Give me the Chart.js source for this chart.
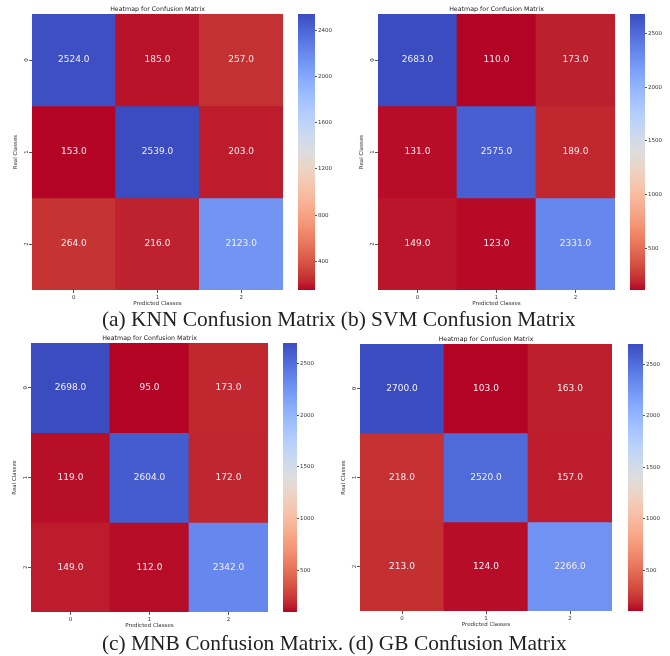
<!DOCTYPE html>
<html>
<head>
<meta charset="utf-8">
<script src="https://cdn.jsdelivr.net/npm/chart.js@4.4.1/dist/chart.umd.min.js"></script>
<style>
  body { margin: 0; background: #fff; width: 670px; height: 656px; position: relative; overflow: hidden; }
  canvas { position: absolute; }
  .cap { position: absolute; font-family: "Liberation Serif", "Times New Roman", serif; font-size: 21.4px; line-height: 21px; color: #222; white-space: nowrap; }
</style>
</head>
<body>
<canvas id="hm-knn"></canvas><canvas id="cb-knn"></canvas>
<canvas id="hm-svm"></canvas><canvas id="cb-svm"></canvas>
<canvas id="hm-mnb"></canvas><canvas id="cb-mnb"></canvas>
<canvas id="hm-gb"></canvas><canvas id="cb-gb"></canvas>
<div class="cap" style="left:102px;top:309px">(a) KNN Confusion Matrix (b) SVM Confusion Matrix</div>
<div class="cap" style="left:102px;top:633px">(c) MNB Confusion Matrix. (d) GB Confusion Matrix</div>
<script>
// data (rows = real class, cols = predicted)
const classLabels = ["0", "1", "2"];
const knnMatrix = [[2524, 185, 257], [153, 2539, 203], [264, 216, 2123]];
const svmMatrix = [[2683, 110, 173], [131, 2575, 189], [149, 123, 2331]];
const mnbMatrix = [[2698, 95, 173], [119, 2604, 172], [149, 112, 2342]];
const gbMatrix = [[2700, 103, 163], [218, 2520, 157], [213, 124, 2266]];
const knnTicks = [400, 800, 1200, 1600, 2000, 2400];
const svmTicks = [500, 1000, 1500, 2000, 2500];
const mnbTicks = [500, 1000, 1500, 2000, 2500];
const gbTicks = [500, 1000, 1500, 2000, 2500];
const chartTitle = "Heatmap for Confusion Matrix";

// matplotlib coolwarm, 33 samples
const coolwarm = [
  [59,76,192],[68,90,204],[77,104,215],[87,117,225],[98,130,234],[108,142,241],[119,154,247],
  [130,165,251],[141,176,254],[152,185,255],[163,194,255],[174,201,253],[184,208,249],[194,213,244],
  [204,217,238],[213,219,230],[221,221,221],[229,216,209],[236,211,197],[241,204,185],[245,196,173],
  [247,187,160],[247,177,148],[247,166,135],[244,154,123],[241,141,111],[236,127,99],[229,112,88],
  [222,96,77],[213,80,66],[203,62,56],[192,40,47],[180,4,38]
];
function coolwarmR(t) {
  const p = (1 - Math.min(1, Math.max(0, t))) * (coolwarm.length - 1);
  const i = Math.min(coolwarm.length - 2, Math.floor(p));
  const f = p - i;
  const a = coolwarm[i], b = coolwarm[i + 1];
  const c = a.map((v, k) => Math.round(v + (b[k] - v) * f));
  return `rgb(${c[0]},${c[1]},${c[2]})`;
}

const axisFont = { family: "DejaVu Sans", size: 5.5 };
const axisColor = "#333";

const titlePlugin = {
  id: "hmTitle",
  afterDraw(chart, args, opts) {
    const { ctx, chartArea } = chart;
    ctx.save();
    ctx.font = '6.3px "DejaVu Sans"';
    ctx.fillStyle = "#222";
    ctx.textAlign = "center";
    ctx.textBaseline = "middle";
    ctx.fillText(opts.text, (chartArea.left + chartArea.right) / 2, chartArea.top - 5);
    ctx.restore();
  }
};

const annotPlugin = {
  id: "annot",
  afterDatasetsDraw(chart, args, opts) {
    const { ctx } = chart;
    ctx.save();
    ctx.font = '9px "DejaVu Sans"';
    ctx.fillStyle = "#f4eef4";
    ctx.textAlign = "center";
    ctx.textBaseline = "middle";
    opts.matrix.forEach((row, r) => {
      chart.getDatasetMeta(r).data.forEach((bar, c) => {
        ctx.fillText(row[c].toFixed(1), bar.x, (bar.y + bar.base) / 2);
      });
    });
    ctx.restore();
  }
};

function heatmap(id, area, matrix) {
  const flat = matrix.flat();
  const vmin = Math.min(...flat), vmax = Math.max(...flat);
  const el = document.getElementById(id);
  el.width = area.r - area.l + 38;
  el.height = area.b - area.t + 38;
  el.style.left = (area.l - 32) + "px";
  el.style.top = (area.t - 14) + "px";
  new Chart(el, {
    type: "bar",
    data: {
      labels: classLabels,
      datasets: matrix.map((row, r) => ({
        data: row.map(() => [r, r + 1]),
        backgroundColor: row.map(v => coolwarmR((v - vmin) / (vmax - vmin))),
        borderWidth: 0,
        grouped: false,
        barPercentage: 1,
        categoryPercentage: 1
      }))
    },
    options: {
      responsive: false,
      animation: false,
      layout: { padding: { top: 14, right: 6, left: 0, bottom: 0 } },
      plugins: {
        legend: { display: false },
        tooltip: { enabled: false },
        hmTitle: { text: chartTitle },
        annot: { matrix }
      },
      scales: {
        x: {
          afterFit: s => { s.height = 24; },
          grid: { display: true, drawOnChartArea: false, offset: false, tickLength: 3, color: "#555" },
          border: { display: false },
          ticks: { font: axisFont, color: axisColor, padding: 1 },
          title: { display: true, text: "Predicted Classes", font: axisFont, color: axisColor, padding: { top: 0, bottom: 7 } }
        },
        y: {
          min: 0,
          max: classLabels.length,
          reverse: true,
          afterFit: s => { s.width = 32; },
          afterBuildTicks: s => { s.ticks = classLabels.map((_, i) => ({ value: i + 0.5 })); },
          grid: { display: true, drawOnChartArea: false, tickLength: 3, color: "#555" },
          border: { display: false },
          ticks: {
            font: axisFont, color: axisColor, padding: 1,
            minRotation: 90, maxRotation: 90, crossAlign: "center",
            callback: v => classLabels[Math.floor(v)]
          },
          title: { display: true, text: "Real Classes", font: axisFont, color: axisColor, padding: { top: 12, bottom: 0 } }
        }
      }
    },
    plugins: [titlePlugin, annotPlugin]
  });
}

function colorbar(id, box, matrix, ticks) {
  const flat = matrix.flat();
  const vmin = Math.min(...flat), vmax = Math.max(...flat);
  const el = document.getElementById(id);
  el.width = box.r - box.l + 24;
  el.height = box.b - box.t + 10;
  el.style.left = box.l + "px";
  el.style.top = (box.t - 5) + "px";
  new Chart(el, {
    type: "bar",
    data: {
      labels: [""],
      datasets: [{
        data: [[vmin, vmax]],
        borderWidth: 0,
        barPercentage: 1,
        categoryPercentage: 1,
        backgroundColor: ctx => {
          const a = ctx.chart.chartArea;
          if (!a) return coolwarmR(0.5);
          const g = ctx.chart.ctx.createLinearGradient(0, a.bottom, 0, a.top);
          for (let i = 0; i <= 32; i++) g.addColorStop(i / 32, coolwarmR(i / 32));
          return g;
        }
      }]
    },
    options: {
      responsive: false,
      animation: false,
      layout: { padding: { top: 5, bottom: 5, left: 0, right: 0 } },
      plugins: { legend: { display: false }, tooltip: { enabled: false } },
      scales: {
        x: { display: false },
        y: {
          position: "right",
          min: vmin,
          max: vmax,
          afterFit: s => { s.width = 24; },
          afterBuildTicks: s => { s.ticks = ticks.map(v => ({ value: v })); },
          grid: { display: true, drawOnChartArea: false, tickLength: 2, color: "#555" },
          border: { display: false },
          ticks: { font: axisFont, color: axisColor, padding: 1, callback: v => String(v) }
        }
      }
    }
  });
}

heatmap("hm-knn", { l: 32, t: 14, r: 283, b: 290 }, knnMatrix);
colorbar("cb-knn", { l: 298, t: 14, r: 315, b: 290 }, knnMatrix, knnTicks);
heatmap("hm-svm", { l: 378, t: 14, r: 615, b: 290 }, svmMatrix);
colorbar("cb-svm", { l: 630, t: 14, r: 645, b: 290 }, svmMatrix, svmTicks);
heatmap("hm-mnb", { l: 31, t: 343, r: 268, b: 612 }, mnbMatrix);
colorbar("cb-mnb", { l: 283, t: 343, r: 297, b: 612 }, mnbMatrix, mnbTicks);
heatmap("hm-gb", { l: 360, t: 344, r: 612, b: 611 }, gbMatrix);
colorbar("cb-gb", { l: 628, t: 344, r: 643, b: 611 }, gbMatrix, gbTicks);
</script>
</body>
</html>
